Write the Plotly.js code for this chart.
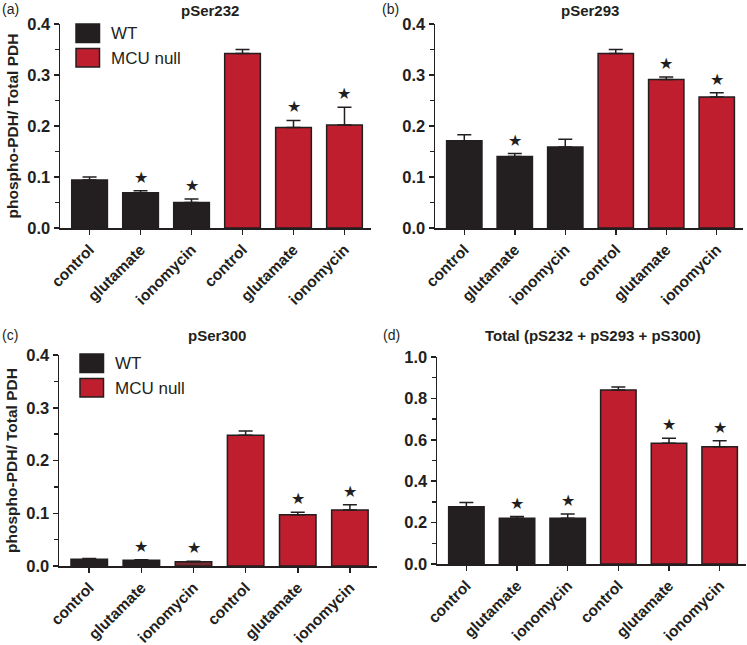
<!DOCTYPE html>
<html>
<head>
<meta charset="utf-8">
<script src="https://cdn.plot.ly/plotly-3.0.1.min.js"></script>
<style>html,body{margin:0;padding:0;background:#fff;}#chart{width:747px;height:645px;}</style>
</head>
<body>
<div id="chart"></div>
<script>
// ---- data ----
const categories = ["control", "glutamate", "ionomycin", "control", "glutamate", "ionomycin"];
const groups = ["WT", "MCU null"];
const panelTitles = ["pSer232", "pSer293", "pSer300", "Total (pS232 + pS293 + pS300)"];
const panelLabels = ["(a)", "(b)", "(c)", "(d)"];
const yTitle = "phospho-PDH/ Total PDH";
const yTicksSmall = [0, 0.1, 0.2, 0.3, 0.4];
const yTicksTotal = [0, 0.2, 0.4, 0.6, 0.8, 1.0];

const pSer232_WT = [0.094, 0.069, 0.050];
const pSer232_WT_err = [0.006, 0.004, 0.007];
const pSer232_MCU = [0.342, 0.197, 0.202];
const pSer232_MCU_err = [0.008, 0.014, 0.035];

const pSer293_WT = [0.171, 0.140, 0.159];
const pSer293_WT_err = [0.012, 0.006, 0.015];
const pSer293_MCU = [0.342, 0.291, 0.257];
const pSer293_MCU_err = [0.008, 0.005, 0.008];

const pSer300_WT = [0.013, 0.011, 0.008];
const pSer300_WT_err = [0.001, 0.001, 0.001];
const pSer300_MCU = [0.248, 0.097, 0.106];
const pSer300_MCU_err = [0.008, 0.005, 0.010];

const total_WT = [0.277, 0.221, 0.221];
const total_WT_err = [0.020, 0.008, 0.021];
const total_MCU = [0.841, 0.583, 0.567];
const total_MCU_err = [0.014, 0.024, 0.029];

// significance stars (1 = star)
const sig232_WT = [0, 1, 1], sig232_MCU = [0, 1, 1];
const sig293_WT = [0, 1, 0], sig293_MCU = [0, 1, 1];
const sig300_WT = [0, 1, 1], sig300_MCU = [0, 1, 1];
const sigTot_WT = [0, 1, 1], sigTot_MCU = [0, 1, 1];

// ---- build ----
const DARK = "#231f20";
const BLACK_FILL = "#231f20";
const RED_FILL = "#be1e2d";
const FONT = "Liberation Sans, Arial, sans-serif";

const panels = [
  {wt: pSer232_WT, wtE: pSer232_WT_err, mcu: pSer232_MCU, mcuE: pSer232_MCU_err, sw: sig232_WT, sm: sig232_MCU, ymax: 0.4, ticks: yTicksSmall},
  {wt: pSer293_WT, wtE: pSer293_WT_err, mcu: pSer293_MCU, mcuE: pSer293_MCU_err, sw: sig293_WT, sm: sig293_MCU, ymax: 0.4, ticks: yTicksSmall},
  {wt: pSer300_WT, wtE: pSer300_WT_err, mcu: pSer300_MCU, mcuE: pSer300_MCU_err, sw: sig300_WT, sm: sig300_MCU, ymax: 0.4, ticks: yTicksSmall},
  {wt: total_WT, wtE: total_WT_err, mcu: total_MCU, mcuE: total_MCU_err, sw: sigTot_WT, sm: sigTot_MCU, ymax: 1.0, ticks: yTicksTotal}
];

const W = 747, H = 645;
// pixel geometry of each plot area [x0, x1, yTop, yBottom]
const geom = [
  [60, 371, 24, 228],
  [435, 743, 24, 228],
  [59, 377, 355, 566],
  [437, 746, 357, 564]
];

const xIdxWT = [0, 1, 2];
const xIdxMCU = [3, 4, 5];
const traces = [];
const annotations = [];
const shapes = [];
const layout = {
  width: W, height: H,
  margin: {l: 0, r: 0, t: 0, b: 0},
  paper_bgcolor: "#fff", plot_bgcolor: "#fff",
  showlegend: false,
  font: {family: FONT, color: DARK},
  bargap: 0.3
};

panels.forEach((p, i) => {
  const n = i + 1;
  const xa = "x" + (n === 1 ? "" : n), ya = "y" + (n === 1 ? "" : n);
  const g = geom[i];
  const errStyle = (arr) => ({type: "data", symmetric: false, array: arr, arrayminus: arr.map(() => 0), color: DARK, thickness: 1.5, width: 7, visible: true});
  traces.push({
    type: "bar", x: xIdxWT, y: p.wt, name: groups[0], xaxis: xa, yaxis: ya, width: 0.7,
    marker: {color: i === 2 ? [BLACK_FILL, BLACK_FILL, "#7a2830"] : BLACK_FILL, line: {color: DARK, width: 1.5}},
    error_y: errStyle(p.wtE), hoverinfo: "skip"
  });
  traces.push({
    type: "bar", x: xIdxMCU, y: p.mcu, name: groups[1], xaxis: xa, yaxis: ya, width: 0.7,
    marker: {color: RED_FILL, line: {color: DARK, width: 1.5}},
    error_y: errStyle(p.mcuE), hoverinfo: "skip"
  });
  const xk = "xaxis" + (n === 1 ? "" : n), yk = "yaxis" + (n === 1 ? "" : n);
  layout[xk] = {
    domain: [g[0] / W, g[1] / W], anchor: ya, range: [-0.58, 5.52],
    tickmode: "array", tickvals: [0, 1, 2, 3, 4, 5], ticktext: categories.map(c => "<b>" + c + "</b>"),
    tickangle: -45, ticks: "outside", ticklen: 5, tickwidth: 1.5, tickcolor: DARK,
    showline: true, linecolor: DARK, linewidth: 1.5, showgrid: false, zeroline: false,
    tickfont: {family: FONT, size: 15.5, color: DARK}, fixedrange: true
  };
  const dt = p.ticks[1] - p.ticks[0];
  layout[yk] = {
    domain: [1 - g[3] / H, 1 - g[2] / H], anchor: xa, range: [0, p.ymax],
    tickmode: "array", tickvals: p.ticks, ticktext: p.ticks.map(v => "<b>" + v.toFixed(1) + "</b>"),
    ticks: "outside", ticklen: 5, tickwidth: 1.5, tickcolor: DARK,
    minor: {dtick: dt / 2, tick0: 0, ticks: "outside", ticklen: 4, tickwidth: 1.5, tickcolor: DARK, showgrid: false},
    showline: true, linecolor: DARK, linewidth: 1.5, showgrid: false, zeroline: false,
    tickfont: {family: FONT, size: 16.5, color: DARK}, fixedrange: true
  };
  if (i === 0 || i === 2) {
    layout[yk].title = {text: "<b>" + yTitle + "</b>", font: {family: FONT, size: 15.5, color: DARK}, standoff: 5};
  }
  // stars
  const addStars = (xs, vals, errs, sig) => {
    xs.forEach((x, k) => {
      if (sig[k]) {
        annotations.push({xref: xa, yref: ya, x: x, y: vals[k] + errs[k], yanchor: "bottom", yshift: 2,
          text: "★", showarrow: false, font: {family: "DejaVu Sans", size: 16, color: DARK}});
      }
    });
  };
  addStars(xIdxWT, p.wt, p.wtE, p.sw);
  addStars(xIdxMCU, p.mcu, p.mcuE, p.sm);
});

// panel titles and labels
const titlePos = [[210, 11], [590, 11], [217, 335], [593, 335]];
const labelPos = [[0, 9], [380, 9], [0, 335], [381, 335]];
panelTitles.forEach((t, i) => {
  annotations.push({xref: "paper", yref: "paper", x: titlePos[i][0] / W, y: 1 - titlePos[i][1] / H,
    xanchor: "center", yanchor: "middle", text: "<b>" + t + "</b>", showarrow: false,
    font: {family: FONT, size: 15, color: DARK}});
  annotations.push({xref: "paper", yref: "paper", x: labelPos[i][0] / W, y: 1 - labelPos[i][1] / H,
    xanchor: "left", yanchor: "middle", text: panelLabels[i], showarrow: false,
    font: {family: FONT, size: 14, color: DARK}});
});

// legends (panels a and c)
const legendPos = [[76, 24], [80, 354]];
legendPos.forEach(lp => {
  const boxes = [[BLACK_FILL, 0], [RED_FILL, 24.5]];
  boxes.forEach((b, k) => {
    const y0 = lp[1] + b[1];
    shapes.push({type: "rect", xref: "paper", yref: "paper",
      x0: lp[0] / W, x1: (lp[0] + 23.5) / W, y0: 1 - y0 / H, y1: 1 - (y0 + 18.5) / H,
      fillcolor: b[0], line: {color: DARK, width: 1.5}});
    annotations.push({xref: "paper", yref: "paper", x: (lp[0] + 33) / W, y: 1 - (y0 + 9.5) / H,
      xanchor: "left", yanchor: "middle", text: groups[k], showarrow: false,
      font: {family: FONT, size: 17, color: DARK}});
  });
});

layout.annotations = annotations;
layout.shapes = shapes;

Plotly.newPlot("chart", traces, layout, {staticPlot: true, displayModeBar: false});
</script>
</body>
</html>
